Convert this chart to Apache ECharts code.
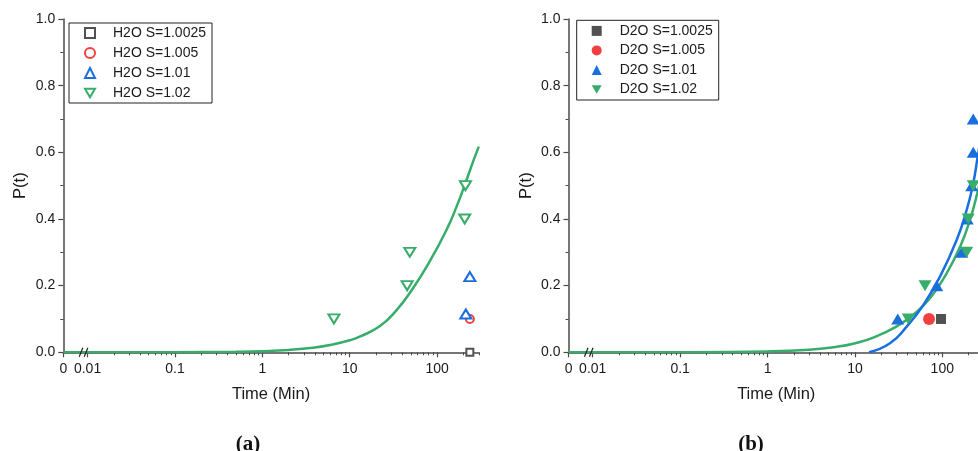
<!DOCTYPE html>
<html>
<head>
<meta charset="utf-8">
<script src="https://cdn.jsdelivr.net/npm/echarts@6/dist/echarts.min.js"></script>
<style>
html,body{margin:0;padding:0;background:#fff;}
#c{width:978px;height:451px;}
</style>
</head>
<body>
<div id="c"></div>
<script>
// ---------- axis settings ----------
const X_MIN = 0.00528;   // position shown as "0" (left of axis break)
const X_MAX = 300;
const xTickValues = [X_MIN, 0.01, 0.1, 1, 10, 100];
const xTickLabels = ['0', '0.01', '0.1', '1', '10', '100'];
const xMinorTicks = [0.02,0.03,0.04,0.05,0.06,0.07,0.08,0.09,
  0.2,0.3,0.4,0.5,0.6,0.7,0.8,0.9, 2,3,4,5,6,7,8,9,
  20,30,40,50,60,70,80,90, 200,300];
const yTickLabels = ['0.0','0.2','0.4','0.6','0.8','1.0'];

// ---------- panel (a) H2O ----------
const h2o_1_0025_t = [237];
const h2o_1_0025_p = [0];
const h2o_1_005_t = [237];
const h2o_1_005_p = [0.1];
const h2o_1_01_t = [213, 237];
const h2o_1_01_p = [0.115, 0.227];
const h2o_1_02_t = [6.6, 45.4, 48.7, 207, 211];
const h2o_1_02_p = [0.1, 0.2, 0.3, 0.4, 0.5];
const fitA_t = [X_MIN, 0.01, 0.1, 0.5, 1, 2, 4, 6, 10, 13, 22, 34, 53, 82, 128, 167, 217, 258, 300];
const fitA_p = [0, 0.00004, 0.0004, 0.0018, 0.0035, 0.0072, 0.0145, 0.022, 0.036, 0.047, 0.078, 0.125, 0.192, 0.272, 0.367, 0.437, 0.517, 0.572, 0.617];

// ---------- panel (b) D2O ----------
const d2o_1_0025_t = [96.6];
const d2o_1_0025_p = [0.1];
const d2o_1_005_t = [70.5];
const d2o_1_005_p = [0.1];
const d2o_1_01_t = [30.9, 86.3, 167, 193, 217, 226, 226];
const d2o_1_01_p = [0.1, 0.2, 0.3, 0.4, 0.5, 0.6, 0.7];
const d2o_1_02_t = [40.8, 63.4, 190, 198, 226];
const d2o_1_02_p = [0.1, 0.2, 0.3, 0.4, 0.5];
const fitB_blue_t = [14.5, 25.2, 39.1, 60.7, 94.1, 146, 190, 226, 254, 300];
const fitB_blue_p = [0, 0.027, 0.077, 0.142, 0.227, 0.337, 0.427, 0.507, 0.587, 0.70];
const fitB_green_t = [X_MIN, 0.01, 0.1, 1, 3, 6.75, 10, 16.2, 30.1, 46.6, 72.3, 112, 160, 207, 254, 300];
const fitB_green_p = [0, 0.00003, 0.0003, 0.0027, 0.008, 0.018, 0.027, 0.044, 0.078, 0.113, 0.162, 0.237, 0.317, 0.397, 0.482, 0.56];

// ---------- styling ----------
const C_GRAY = '#515151', C_RED = '#F14040', C_BLUE = '#1A6FDF', C_GREEN = '#37AD6B';
const AX = '#4a4a4a';
const FONT = '"Liberation Sans", Arial, sans-serif';
const DOWN_TRI = 'path://M0,0L20,0L10,17Z';

function zip(t, p) { return t.map((v, i) => [v, p[i]]); }
function xLabel(v) {
  for (let i = 0; i < xTickValues.length; i++) {
    if (Math.abs(Math.log10(v) - Math.log10(xTickValues[i])) < 1e-3) return xTickLabels[i];
  }
  return '';
}

function xAxesFor(grid) {
  return [{
    type: 'log', logBase: 10, gridIndex: grid, min: X_MIN, max: X_MAX, position: 'bottom',
    name: 'Time (Min)', nameLocation: 'middle', nameGap: 34,
    nameTextStyle: { fontSize: 16.5, color: '#1a1a1a', fontFamily: FONT },
    axisLine: { show: true, lineStyle: { color: AX, width: 1.5 } },
    axisTick: { show: true, inside: false, length: 5, lineStyle: { color: AX, width: 1.2 },
      customValues: xTickValues.map((v, i) => i === 0 ? v * 1.0005 : v) },
    axisLabel: { show: true, margin: 10, fontSize: 14, color: '#1a1a1a', fontFamily: FONT,
      customValues: xTickValues.map((v, i) => i === 0 ? v * 1.0005 : v),
      formatter: xLabel, hideOverlap: false },
    splitLine: { show: false }, minorTick: { show: false }, minorSplitLine: { show: false }
  }, {
    type: 'log', logBase: 10, gridIndex: grid, min: X_MIN, max: X_MAX, position: 'bottom', offset: 0,
    axisLine: { show: false, onZero: false },
    axisTick: { show: true, inside: false, length: 3, lineStyle: { color: AX, width: 1 },
      customValues: xMinorTicks },
    axisLabel: { show: false },
    splitLine: { show: false }
  }];
}
function yAxisFor(grid) {
  return {
    type: 'value', gridIndex: grid, min: 0, max: 1, interval: 0.2,
    name: 'P(t)', nameLocation: 'middle', nameGap: 34, nameRotate: 90,
    nameTextStyle: { fontSize: 16.5, color: '#1a1a1a', fontFamily: FONT },
    axisLine: { show: true, lineStyle: { color: AX, width: 1.5 } },
    axisTick: { show: true, inside: false, length: 5, lineStyle: { color: AX, width: 1.2 } },
    minorTick: { show: true, splitNumber: 2, length: 3, lineStyle: { color: AX, width: 1 } },
    axisLabel: { margin: 8, fontSize: 14, color: '#1a1a1a', fontFamily: FONT,
      formatter: v => yTickLabels[Math.round(v / 0.2)] },
    splitLine: { show: false }
  };
}

function hollow(name, t, p, sym, size, color, xi, yi) {
  return { name, type: 'scatter', xAxisIndex: xi, yAxisIndex: yi, data: zip(t, p),
    symbol: sym, symbolSize: size, z: 5,
    itemStyle: { color: '#fff', borderColor: color, borderWidth: 2, opacity: 1 } };
}
function filled(name, t, p, sym, size, color, xi, yi) {
  return { name, type: 'scatter', xAxisIndex: xi, yAxisIndex: yi, data: zip(t, p),
    symbol: sym, symbolSize: size, z: 5,
    itemStyle: { color: color, opacity: 1 } };
}
function fitLine(t, p, color, xi, yi) {
  return { type: 'line', xAxisIndex: xi, yAxisIndex: yi, data: zip(t, p), showSymbol: false,
    smooth: 0.5, clip: true, silent: true, z: 3,
    lineStyle: { color: color, width: 2.5 }, itemStyle: { color: color } };
}

const chart = echarts.init(document.getElementById('c'), null, { renderer: 'canvas' });
const legendCommon = {
  orient: 'vertical', selectedMode: false, itemWidth: 10, itemHeight: 10,
  borderColor: '#222', borderWidth: 1, borderRadius: 0, backgroundColor: '#fff',
  textStyle: { fontSize: 14, color: '#1a1a1a', fontFamily: FONT, lineHeight: 14, padding: [0, 0, 0, 13] }
};

chart.setOption({
  animation: false,
  grid: [
    { left: 63.3, top: 19, width: 415.5, height: 333.3, outerBoundsMode: 'none', containLabel: false },
    { left: 568.5, top: 19, width: 415.5, height: 333.3, outerBoundsMode: 'none', containLabel: false }
  ],
  xAxis: xAxesFor(0).concat(xAxesFor(1)),
  yAxis: [yAxisFor(0), yAxisFor(1)],
  legend: [
    Object.assign({}, legendCommon, { left: 69, top: 23, itemGap: 6, padding: [3, 6, 3, 15],
      data: ['H2O S=1.0025', 'H2O S=1.005', 'H2O S=1.01', 'H2O S=1.02'] }),
    Object.assign({}, legendCommon, { left: 576.7, top: 20.3, itemGap: 5.5, padding: [3.6, 6, 3.6, 15],
      data: ['D2O S=1.0025', 'D2O S=1.005', 'D2O S=1.01', 'D2O S=1.02'] })
  ],
  title: [
    { text: '(a)', left: 243, top: 429, textAlign: 'center',
      textStyle: { fontSize: 21, fontWeight: 'bold', fontFamily: '"Liberation Serif", serif', color: '#111' } },
    { text: '(b)', left: 746, top: 429, textAlign: 'center',
      textStyle: { fontSize: 21, fontWeight: 'bold', fontFamily: '"Liberation Serif", serif', color: '#111' } }
  ],
  series: [
    fitLine(fitA_t, fitA_p, C_GREEN, 0, 0),
    hollow('H2O S=1.0025', h2o_1_0025_t, h2o_1_0025_p, 'rect', 7, C_GRAY, 0, 0),
    hollow('H2O S=1.005', h2o_1_005_t, h2o_1_005_p, 'circle', 8, C_RED, 0, 0),
    hollow('H2O S=1.01', h2o_1_01_t, h2o_1_01_p, 'triangle', [11, 9], C_BLUE, 0, 0),
    hollow('H2O S=1.02', h2o_1_02_t, h2o_1_02_p, DOWN_TRI, [11, 9], C_GREEN, 0, 0),

    fitLine(fitB_green_t, fitB_green_p, C_GREEN, 2, 1),
    fitLine(fitB_blue_t, fitB_blue_p, C_BLUE, 2, 1),
    filled('D2O S=1.0025', d2o_1_0025_t, d2o_1_0025_p, 'rect', 10, C_GRAY, 2, 1),
    filled('D2O S=1.005', d2o_1_005_t, d2o_1_005_p, 'circle', 12, C_RED, 2, 1),
    filled('D2O S=1.01', d2o_1_01_t, d2o_1_01_p, 'triangle', [13, 11], C_BLUE, 2, 1),
    filled('D2O S=1.02', d2o_1_02_t, d2o_1_02_p, DOWN_TRI, [13, 11], C_GREEN, 2, 1)
  ]
});

// axis-break marks "//" between 0 and 0.01
function breakMarks(xAxisIndex, yAxisIndex) {
  const p = chart.convertToPixel({ xAxisIndex, yAxisIndex }, [0.01, 0]);
  const cx = p[0] - 4, cy = p[1];
  return [-2.5, 2.5].map(dx => ({
    type: 'line', z: 100, silent: true,
    shape: { x1: cx + dx - 1.8, y1: cy + 4.5, x2: cx + dx + 1.8, y2: cy - 4.5 },
    style: { stroke: '#222', lineWidth: 1.2 }
  }));
}
chart.setOption({ graphic: breakMarks(0, 0).concat(breakMarks(2, 1)) });
</script>
</body>
</html>
